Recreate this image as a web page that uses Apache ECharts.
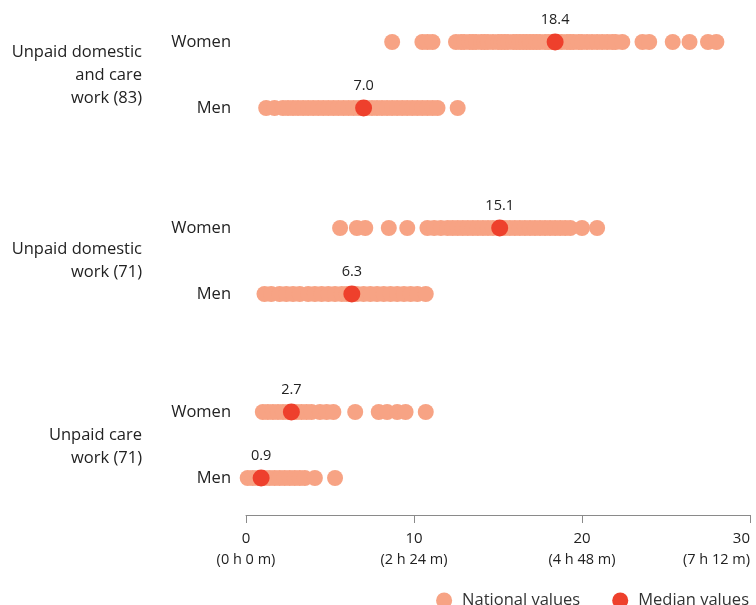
<!DOCTYPE html>
<html>
<head>
<meta charset="utf-8">
<script src="https://cdn.jsdelivr.net/npm/echarts@6/dist/echarts.min.js"></script>
<style>html,body{margin:0;padding:0;background:#fff}#c{width:756px;height:605px}</style>
</head>
<body>
<div id="c"></div>
<script>
const rowNames = ['Women', 'Men'];
const groupLabels = ['Unpaid domestic\nand care\nwork (83)', 'Unpaid domestic\nwork (71)', 'Unpaid care\nwork (71)'];
const tickValues = [0, 10, 20, 30];
const tickTimes = ['(0 h 0 m)', '(2 h 24 m)', '(4 h 48 m)', '(7 h 12 m)'];

const domCareWomen = [8.7, 10.5, 10.8, 11.1, 12.5, 12.8, 13.0, 13.3, 13.5, 13.7, 14.0, 14.2, 14.4, 14.7, 15.0, 15.2, 15.4, 15.6, 15.9, 16.1, 16.3, 16.5, 16.7, 16.9, 17.1, 17.3, 17.5, 17.8, 18.0, 18.2, 18.6, 18.8, 19.1, 19.3, 19.5, 19.8, 20.0, 20.3, 20.6, 20.9, 21.2, 21.5, 21.8, 22.0, 22.4, 23.6, 24.0, 25.4, 26.4, 27.5, 28.0];
const domCareMen = [1.2, 1.7, 2.2, 2.5, 2.8, 3.1, 3.4, 3.7, 4.0, 4.3, 4.6, 4.9, 5.2, 5.5, 5.8, 6.1, 6.4, 6.7, 7.2, 7.5, 7.8, 8.1, 8.4, 8.7, 9.0, 9.3, 9.6, 9.9, 10.2, 10.5, 10.8, 11.1, 11.4, 12.6];
const domWomen = [5.6, 6.6, 7.1, 8.5, 9.6, 10.8, 11.2, 11.6, 12.0, 12.3, 12.6, 12.9, 13.2, 13.5, 13.8, 14.1, 14.4, 14.7, 15.4, 15.7, 16.0, 16.3, 16.6, 16.9, 17.2, 17.5, 17.8, 18.1, 18.4, 18.7, 19.0, 19.3, 20.0, 20.9];
const domMen = [1.1, 1.5, 2.0, 2.4, 2.8, 3.2, 3.7, 4.1, 4.5, 4.9, 5.3, 5.7, 6.0, 6.6, 7.0, 7.4, 7.8, 8.2, 8.6, 9.0, 9.4, 9.8, 10.2, 10.7];
const careWomen = [1.0, 1.3, 1.6, 1.9, 2.2, 2.5, 3.0, 3.3, 3.6, 3.9, 4.4, 4.8, 5.2, 6.5, 7.9, 8.4, 9.0, 9.5, 10.7];
const careMen = [0.1, 0.4, 0.7, 1.1, 1.4, 1.7, 2.0, 2.3, 2.6, 2.9, 3.2, 3.5, 4.1, 5.3];

const mediansWomen = [18.4, 15.1, 2.7];
const mediansMen = [7.0, 6.3, 0.9];

const nationalWomen = [domCareWomen, domWomen, careWomen];
const nationalMen = [domCareMen, domMen, careMen];

const FONT = 'Open Sans';
const NAT = '#F7A384';
const MED = '#EE402C';

const gridTops = [9, 195, 379];
const grids = gridTops.map(t => ({ left: 246, width: 504, top: t, height: 132 }));

const xAxes = grids.map((g, i) => ({
  gridIndex: i, type: 'value', min: 0, max: 30, interval: 10,
  show: i === 2,
  offset: 4,
  axisLine: { show: true, lineStyle: { color: '#8a8a8a', width: 1 } },
  axisTick: { show: true, length: 8, lineStyle: { color: '#8a8a8a' } },
  splitLine: { show: false },
  axisLabel: {
    margin: 13,
    alignMinLabel: 'center',
    alignMaxLabel: 'right',
    formatter: v => '{a|' + v + '}\n{b|' + tickTimes[tickValues.indexOf(v)] + '}',
    rich: {
      a: { fontFamily: FONT, fontSize: 15, color: '#222', lineHeight: 21 },
      b: { fontFamily: FONT, fontSize: 14.5, color: '#222', lineHeight: 21 }
    }
  }
}));

const yAxes = grids.map((g, i) => ({
  gridIndex: i, type: 'category', data: rowNames, inverse: true,
  axisLine: { show: false }, axisTick: { show: false }, splitLine: { show: false },
  axisLabel: { margin: 15, fontFamily: FONT, fontSize: 16.5, color: '#222' }
}));

const series = [];
for (let i = 0; i < 3; i++) {
  const natData = nationalWomen[i].map(v => [v, rowNames[0]]).concat(nationalMen[i].map(v => [v, rowNames[1]]));
  series.push({
    name: 'National values', type: 'scatter', xAxisIndex: i, yAxisIndex: i,
    symbolSize: 16, itemStyle: { color: NAT, opacity: 1 },
    data: natData, silent: true, z: 2
  });
  series.push({
    name: 'Median values', type: 'scatter', xAxisIndex: i, yAxisIndex: i,
    symbolSize: 17, itemStyle: { color: MED, opacity: 1 },
    data: [[mediansWomen[i], rowNames[0]], [mediansMen[i], rowNames[1]]],
    label: {
      show: true, position: 'top', distance: 6,
      formatter: p => p.value[0].toFixed(1),
      fontFamily: FONT, fontSize: 14.5, color: '#222'
    },
    silent: true, z: 3
  });
}

const groupTextY = [41, 238, 424];
const graphic = groupLabels.map((t, i) => ({
  type: 'text', right: 756 - 142, top: groupTextY[i],
  style: { text: t, textAlign: 'right', fontFamily: FONT, fontSize: 16.5, lineHeight: 23, fill: '#222' }
}));

const chart = echarts.init(document.getElementById('c'), null, { renderer: 'canvas' });
chart.setOption({
  animation: false,
  backgroundColor: '#fff',
  grid: grids,
  xAxis: xAxes,
  yAxis: yAxes,
  series: series,
  graphic: graphic,
  legend: {
    data: ['National values', 'Median values'],
    right: 2, top: 587, itemGap: 32,
    icon: 'circle', itemWidth: 16, itemHeight: 16,
    textStyle: { fontFamily: FONT, fontSize: 16.5, color: '#333', padding: [0, 0, 0, 5] }
  }
});
</script>
</body>
</html>
